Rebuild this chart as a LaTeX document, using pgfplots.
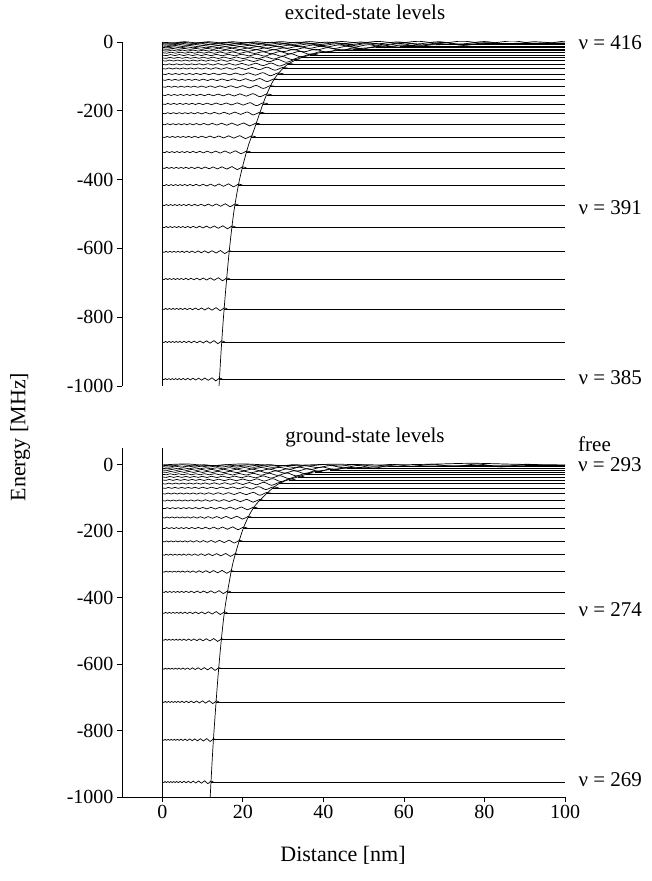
\documentclass[border=0pt]{standalone}
\usepackage{fontspec}
\setmainfont{Liberation Serif}
\usepackage{pgfplots}
\usepackage{pgfplotstable}
\pgfplotsset{compat=1.18}

% normalized wiggle of a bound-state wavefunction (u = x / turning point)
\pgfplotstableread{
u w
0.000 0
0.030 -0.3
0.055 0.3
0.085 -0.3
0.115 0.3
0.145 -0.3
0.175 0.3
0.205 -0.3
0.235 0.3
0.265 -0.3
0.295 0.35
0.330 -0.35
0.365 0.4
0.405 -0.4
0.445 0.45
0.490 -0.45
0.535 0.5
0.585 -0.5
0.635 0.55
0.690 -0.6
0.745 0.65
0.805 -0.7
0.870 0.75
0.935 -1.0
1.000 0.6
1.050 0
}\wig

\begin{document}
\begin{tikzpicture}[font=\fontsize{21}{25}\selectfont]
\useasboundingbox (-122pt,-84pt) rectangle (530pt,797pt);
\pgfplotsset{
 every axis/.append style={scale only axis, width=443pt, xmin=-10, xmax=100, ymin=-1000,
   tick align=outside, major tick length=5pt,
   axis line style={-, line width=0.8pt}, tick style={line width=0.8pt, black},
   /pgf/number format/assume math mode=true, /pgf/number format/1000 sep={},
   ticklabel style={font=\fontsize{20}{24}\selectfont},
   ytick={-1000,-800,...,0}},
 lv/.style={black, line width=0.7pt},
}
% ---------------- excited state ----------------
\begin{axis}[at={(0pt,411pt)}, height=344pt, ymax=0, axis x line=none, axis y line*=left, xtick=\empty]
\addplot[lv] coordinates {(0,-1000) (0,0)};
\foreach \E/\xt in {-980/14.2,-872/14.75,-776/15.35,-689/16.0,-610/16.6,-538/17.3,-474/18.0,-416/18.9,
  -366/19.9,-320/20.9,-276/22.1,-239/23.2,-207/24.2,-180/25.0,-154/25.9,-130/26.8,-110/27.8,-93/28.7,
  -77/29.9,-65/31.1,-54/32.9,-46/34.4,-38/36.8,-31/39.2,-25/43.7,-20/47.4,-15.5/53,-11.6/59,-8/68,
  -5/80,-2.5/92,-0.8/100}{
  \edef\tmp{\noexpand\addplot[lv, smooth] table[x expr=\noexpand\thisrow{u}*\xt, y expr=\E+5*\noexpand\thisrow{w}] {\noexpand\wig};
  \noexpand\addplot[lv] coordinates {(\xt,\E) (100,\E)};}
  \tmp
}
\addplot[lv, smooth] coordinates {(14.1,-1000) (14.6,-900) (15.2,-800) (15.9,-700) (16.7,-600) (17.7,-500)
  (18.9,-416) (20.1,-355) (21.4,-300) (22.7,-258) (23.9,-217) (25.0,-180) (26.0,-150) (27.2,-120)
  (28.5,-96) (30.9,-67) (34.2,-47) (39.2,-31) (46.7,-21) (54.8,-14) (65,-9) (80,-5) (100,-2.5)};
\end{axis}
% ---------------- ground state ----------------
\begin{axis}[at={(0pt,0pt)}, height=349pt, ymax=50, axis x line*=bottom, axis y line*=left, xtick={0,20,...,100}]
\addplot[lv] coordinates {(0,-1000) (0,50)};
\foreach \E/\xt in {-955/12.1,-828/12.7,-714/13.4,-614/14.0,-527/14.7,-446/15.4,-383/16.2,-322/17.1,
  -271/18.1,-231/19.1,-191/20.1,-159/21.3,-131/22.6,-108/24.1,-87/25.9,-70/27.5,-57/29.0,-46/31.5,
  -37/33.6,-29/35.6,-22/37.8,-16/41.6,-11/45.8,-6/56,-2/90}{
  \edef\tmp{\noexpand\addplot[lv, smooth] table[x expr=\noexpand\thisrow{u}*\xt, y expr=\E+5*\noexpand\thisrow{w}] {\noexpand\wig};
  \noexpand\addplot[lv] coordinates {(\xt,\E) (100,\E)};}
  \tmp
}
% free state
\addplot[lv, smooth] coordinates {(0,-1) (6,2) (12,-3) (20,2) (30,-3) (42,1) (55,-1) (66,1) (77,4) (88,1) (100,-1)};
\addplot[lv, smooth] coordinates {(11.9,-1000) (12.7,-828) (14.0,-614) (15.4,-446) (17.1,-322) (18.1,-271)
  (20.2,-189) (22.7,-129) (26.0,-86) (29.3,-55) (34.2,-35) (38.4,-20) (46.6,-10) (60,-5) (80,-2.5) (100,-1.5)};
\end{axis}
% ---------------- texts ----------------
\node at (243pt,785pt) {excited-state levels};
\node at (243pt,360pt) {ground-state levels};
\node[anchor=west] at (453pt,754pt) {ν = 416};
\node[anchor=west] at (453pt,589pt) {ν = 391};
\node[anchor=west] at (453pt,419pt) {ν = 385};
\node[anchor=base west, inner sep=0pt] at (456pt,345pt) {free};
\node[anchor=base west, inner sep=0pt] at (456pt,325pt) {ν = 293};
\node[anchor=west] at (453pt,187pt) {ν = 274};
\node[anchor=west] at (453pt,17pt) {ν = 269};
\node[rotate=90, font=\fontsize{22}{26}\selectfont] at (-102pt,360pt) {Energy [MHz]};
\node[font=\fontsize{22}{26}\selectfont] at (221pt,-58pt) {Distance [nm]};
\end{tikzpicture}
\end{document}
